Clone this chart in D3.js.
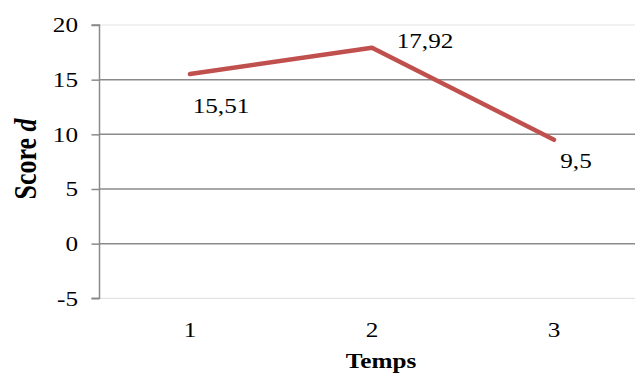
<!DOCTYPE html>
<html><head><meta charset="utf-8">
<script src="https://cdn.jsdelivr.net/npm/d3@7"></script>
<style>body{margin:0;background:#fff}svg{display:block}text{font-family:"Liberation Serif","Times New Roman",Times,serif}</style>
</head><body>
<svg id="c" width="635" height="383"></svg>
<script>
const categories = ["1", "2", "3"];
const values = [15.51, 17.92, 9.5];
const valueLabels = ["15,51", "17,92", "9,5"];
const yTicks = [-5, 0, 5, 10, 15, 20];
const xTitle = "Temps";
const yTitle = "Score ";
const yTitleItalic = "d";

const W = 635, H = 383, SX = 1.2;
const svg = d3.select("#c");

const x = d3.scaleBand().domain(categories).range([99, 645]).padding(0);
const xc = c => x(c) + x.bandwidth() / 2;
const y = d3.scaleLinear().domain([-5, 20]).range([298.3, 25]);

// gridlines
svg.append("g").selectAll("line").data(yTicks).join("line")
  .attr("x1", 99).attr("x2", W)
  .attr("y1", d => y(d)).attr("y2", d => y(d))
  .attr("stroke", d => (d === 20 || d === -5) ? "#e3e3e3" : "#8a8a8a")
  .attr("stroke-width", d => (d === 20 || d === -5) ? 1.2 : 1.5);

// y axis
const yAxis = svg.append("g").attr("transform", "translate(99.5,0)")
  .call(d3.axisLeft(y).tickValues(yTicks).tickSize(8).tickFormat(""));
yAxis.select(".domain").attr("stroke", "#8a8a8a").attr("stroke-width", 1.5)
  .attr("d", `M-8,${y(20)}H0V${y(-5)}H-8`);
yAxis.selectAll(".tick line").attr("stroke", "#8a8a8a").attr("stroke-width", 1.5);

// y tick labels
svg.append("g").selectAll("text").data(yTicks).join("text")
  .attr("transform", d => `translate(78,${y(d)}) scale(${SX},1)`)
  .attr("text-anchor", "end").attr("dy", "0.35em")
  .style("font-size", "21px").attr("fill", "#000")
  .text(d => d);

// x tick labels
svg.append("g").selectAll("text").data(categories).join("text")
  .attr("transform", d => `translate(${xc(d)},330) scale(${SX},1)`)
  .attr("text-anchor", "middle").attr("dy", "0.35em")
  .style("font-size", "21px").attr("fill", "#000")
  .text(d => d);

// line
const pts = categories.map((c, i) => [xc(c), y(values[i])]);
svg.append("path").datum(pts)
  .attr("d", d3.line())
  .attr("fill", "none").attr("stroke", "#C0504D")
  .attr("stroke-width", 4.5).attr("stroke-linecap", "round").attr("stroke-linejoin", "round");

// data labels
const labelOffsets = [[31, 39], [53, 0], [22, 28]];
svg.append("g").selectAll("text").data(pts).join("text")
  .attr("transform", (p, i) => `translate(${p[0] + labelOffsets[i][0]},${p[1] + labelOffsets[i][1]}) scale(${SX},1)`)
  .attr("text-anchor", "middle")
  .style("font-size", "21px").attr("fill", "#000")
  .text((p, i) => valueLabels[i]);

// x title
svg.append("text")
  .attr("transform", `translate(381,368) scale(${SX},1)`)
  .attr("text-anchor", "middle")
  .style("font-size", "21px").style("font-weight", "bold")
  .text(xTitle);

// y title
const yt = svg.append("text")
  .attr("transform", `translate(36,159) scale(${SX},1) rotate(-90)`)
  .attr("text-anchor", "middle")
  .style("font-size", "26px").style("font-weight", "bold");
yt.append("tspan").text(yTitle);
yt.append("tspan").style("font-style", "italic").text(yTitleItalic);
</script>
</body></html>
